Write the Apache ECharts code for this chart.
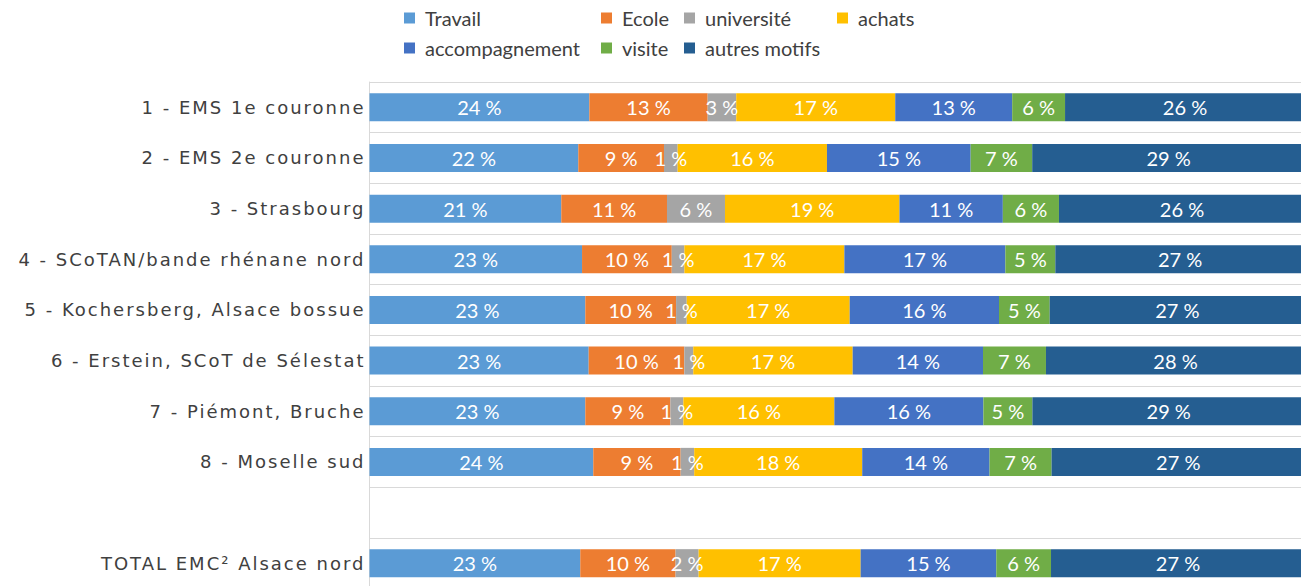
<!DOCTYPE html>
<html>
<head>
<meta charset="utf-8">
<script src="https://cdn.jsdelivr.net/npm/echarts@6/dist/echarts.min.js"></script>
<style>
  html, body { margin: 0; padding: 0; background: #fff; }
  #chart { width: 1301px; height: 586px; }
  /* libellés des secteurs un peu espacés comme dans le modèle */
  #chart text[style*="DejaVu"],
  #chart text[font-family*="DejaVu"] { letter-spacing: 2px; }
</style>
</head>
<body>
<div id="chart"></div>
<script>
// secteurs (la ligne vide sépare le total)
const secteurs = [
  '1 - EMS 1e couronne',
  '2 - EMS 2e couronne',
  '3 - Strasbourg',
  '4 - SCoTAN/bande rhénane nord',
  '5 - Kochersberg, Alsace bossue',
  '6 - Erstein, SCoT de Sélestat',
  '7 - Piémont, Bruche',
  '8 - Moselle sud',
  '',
  'TOTAL EMC² Alsace nord'
];

// parts en % par motif
const travail        = [23.5, 22.32, 20.5, 22.72, 23.07, 23.43, 23.07, 23.92, '-', 22.53];
const ecole          = [12.65, 9.16, 11.3, 9.59, 9.70, 10.22, 9.09, 9.34, '-', 10.19];
const universite     = [3.05, 1.46, 6.2, 1.35, 1.14, 0.96, 1.39, 1.45, '-', 2.46];
const achats         = [17.0, 15.96, 18.65, 17.10, 17.42, 17.04, 16.14, 17.96, '-', 17.32];
const accompagnement = [12.5, 15.36, 11.05, 17.21, 15.96, 13.93, 15.93, 13.61, '-', 14.5];
const visite         = [5.65, 6.58, 6.0, 5.34, 5.42, 6.73, 5.24, 6.63, '-', 5.85];
const autresMotifs   = [25.65, 29.15, 26.3, 26.69, 27.29, 27.69, 29.15, 27.09, '-', 27.15];

const motifs = ['Travail', 'Ecole', 'université', 'achats', 'accompagnement', 'visite', 'autres motifs'];
const valeurs = [travail, ecole, universite, achats, accompagnement, visite, autresMotifs];
const couleurs = ['#5B9BD5', '#ED7D31', '#A5A5A5', '#FFC000', '#4472C4', '#70AD47', '#255E91'];

const mychart = echarts.init(document.getElementById('chart'), null, { renderer: 'svg' });

// une légende par motif pour garder les colonnes du modèle
const legendPos = [
  [404, 8], [601, 8], [684, 8], [837, 8],
  [404, 38], [601, 38], [684, 38]
];
const legends = motifs.map((m, i) => ({
  data: [m],
  left: legendPos[i][0],
  top: legendPos[i][1],
  padding: 0,
  icon: 'rect',
  itemWidth: 11,
  itemHeight: 11,
  selectedMode: false,
  textStyle: {
    fontFamily: 'Lato',
    fontSize: 20,
    lineHeight: 20,
    color: '#404040',
    padding: [0, 0, 0, 5]
  }
}));

mychart.setOption({
  animation: false,
  color: couleurs,
  legend: legends,
  grid: {
    left: 369.5,
    right: -4,
    top: 82,
    bottom: -2.5,
    containLabel: false,
    outerBoundsMode: 'none'
  },
  xAxis: {
    type: 'value',
    min: 0,
    max: 100,
    show: false
  },
  yAxis: {
    type: 'category',
    data: secteurs,
    inverse: true,
    axisTick: { show: false },
    axisLine: { show: true, lineStyle: { color: '#d9d9d9', width: 1 } },
    splitLine: { show: true, lineStyle: { color: '#d9d9d9', width: 1 } },
    axisLabel: {
      margin: 4,
      color: '#404040',
      fontFamily: 'DejaVu Sans',
      fontSize: 18
    }
  },
  series: motifs.map((m, i) => ({
    name: m,
    type: 'bar',
    stack: 'total',
    barWidth: 28,
    data: valeurs[i],
    label: {
      show: true,
      position: 'inside',
      color: '#fff',
      fontFamily: 'Lato',
      fontSize: 20,
      formatter: p => Math.round(p.value) + ' %'
    }
  }))
});
</script>
</body>
</html>
